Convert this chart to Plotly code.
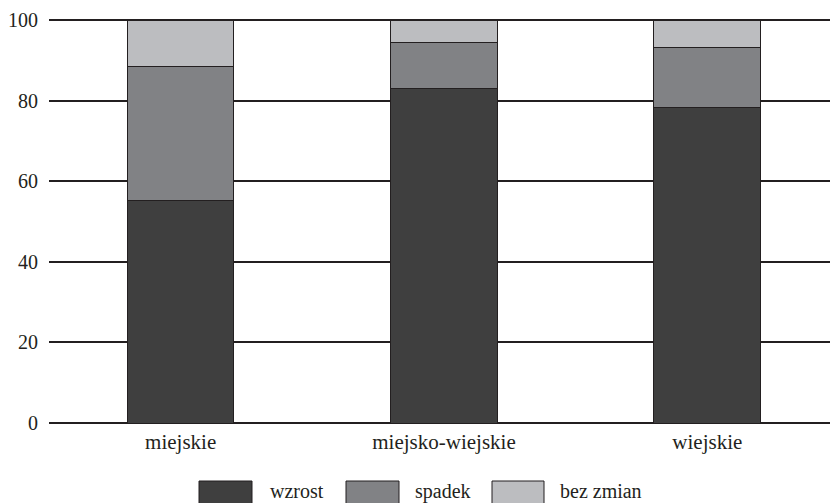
import plotly.graph_objects as go

categories = ["miejskie", "miejsko-wiejskie", "wiejskie"]
wzrost = [55.3, 82.9, 78.3]
spadek = [33.1, 11.6, 14.9]
bez_zmian = [11.6, 5.5, 6.8]
series_names = ["wzrost", "spadek", "bez zmian"]
colors = ["#3f3f3f", "#818285", "#bcbdc0"]
y_ticks = [0, 20, 40, 60, 80, 100]

W, H = 830, 503
L, R, T, B = 49, 0, 18, 80
pw, ph = W - L - R, H - T - B

fig = go.Figure()
for name, vals, col in zip(series_names, [wzrost, spadek, bez_zmian], colors):
    fig.add_trace(go.Bar(
        x=categories, y=vals, name=name, width=0.405,
        marker=dict(color=col, line=dict(color="#231f20", width=1)),
        showlegend=False,
    ))

font = dict(family="Liberation Serif", size=20, color="#231f20")

# custom legend (large swatches)
leg_boxes = [(199, 252), (346, 399), (492, 544)]
leg_text_x = [268, 413, 558]
def px_x(p):
    return (p - L) / pw
def px_y(p):
    return (H - B - p) / ph
shapes = []
annotations = []
for (x0, x1), tx, name, col in zip(leg_boxes, leg_text_x, series_names, colors):
    shapes.append(dict(type="rect", xref="paper", yref="paper",
                       x0=px_x(x0), x1=px_x(x1), y0=px_y(481), y1=px_y(506),
                       fillcolor=col, line=dict(color="#231f20", width=1)))
    annotations.append(dict(xref="paper", yref="paper", x=px_x(tx), y=px_y(491),
                            xanchor="left", yanchor="middle", text=name,
                            showarrow=False, font=font))

fig.update_layout(
    width=W, height=H,
    margin=dict(l=L, r=R, t=T, b=B, pad=0),
    barmode="stack",
    plot_bgcolor="white", paper_bgcolor="white",
    font=font,
    shapes=shapes, annotations=annotations,
    xaxis=dict(range=[-0.5, 2.466], showgrid=False, ticks="", showline=False,
               tickfont=dict(family="Liberation Serif", size=21), ticklabelstandoff=4),
    yaxis=dict(range=[0, 100.5], tickvals=y_ticks, showgrid=True,
               gridcolor="#231f20", gridwidth=2, zeroline=True,
               zerolinecolor="#231f20", zerolinewidth=2, ticks="",
               showline=False, ticklabelstandoff=10),
)

fig.write_html("out.html", config={"displayModeBar": False},
               post_script="document.body.style.margin='0';document.body.style.overflow='hidden';")
